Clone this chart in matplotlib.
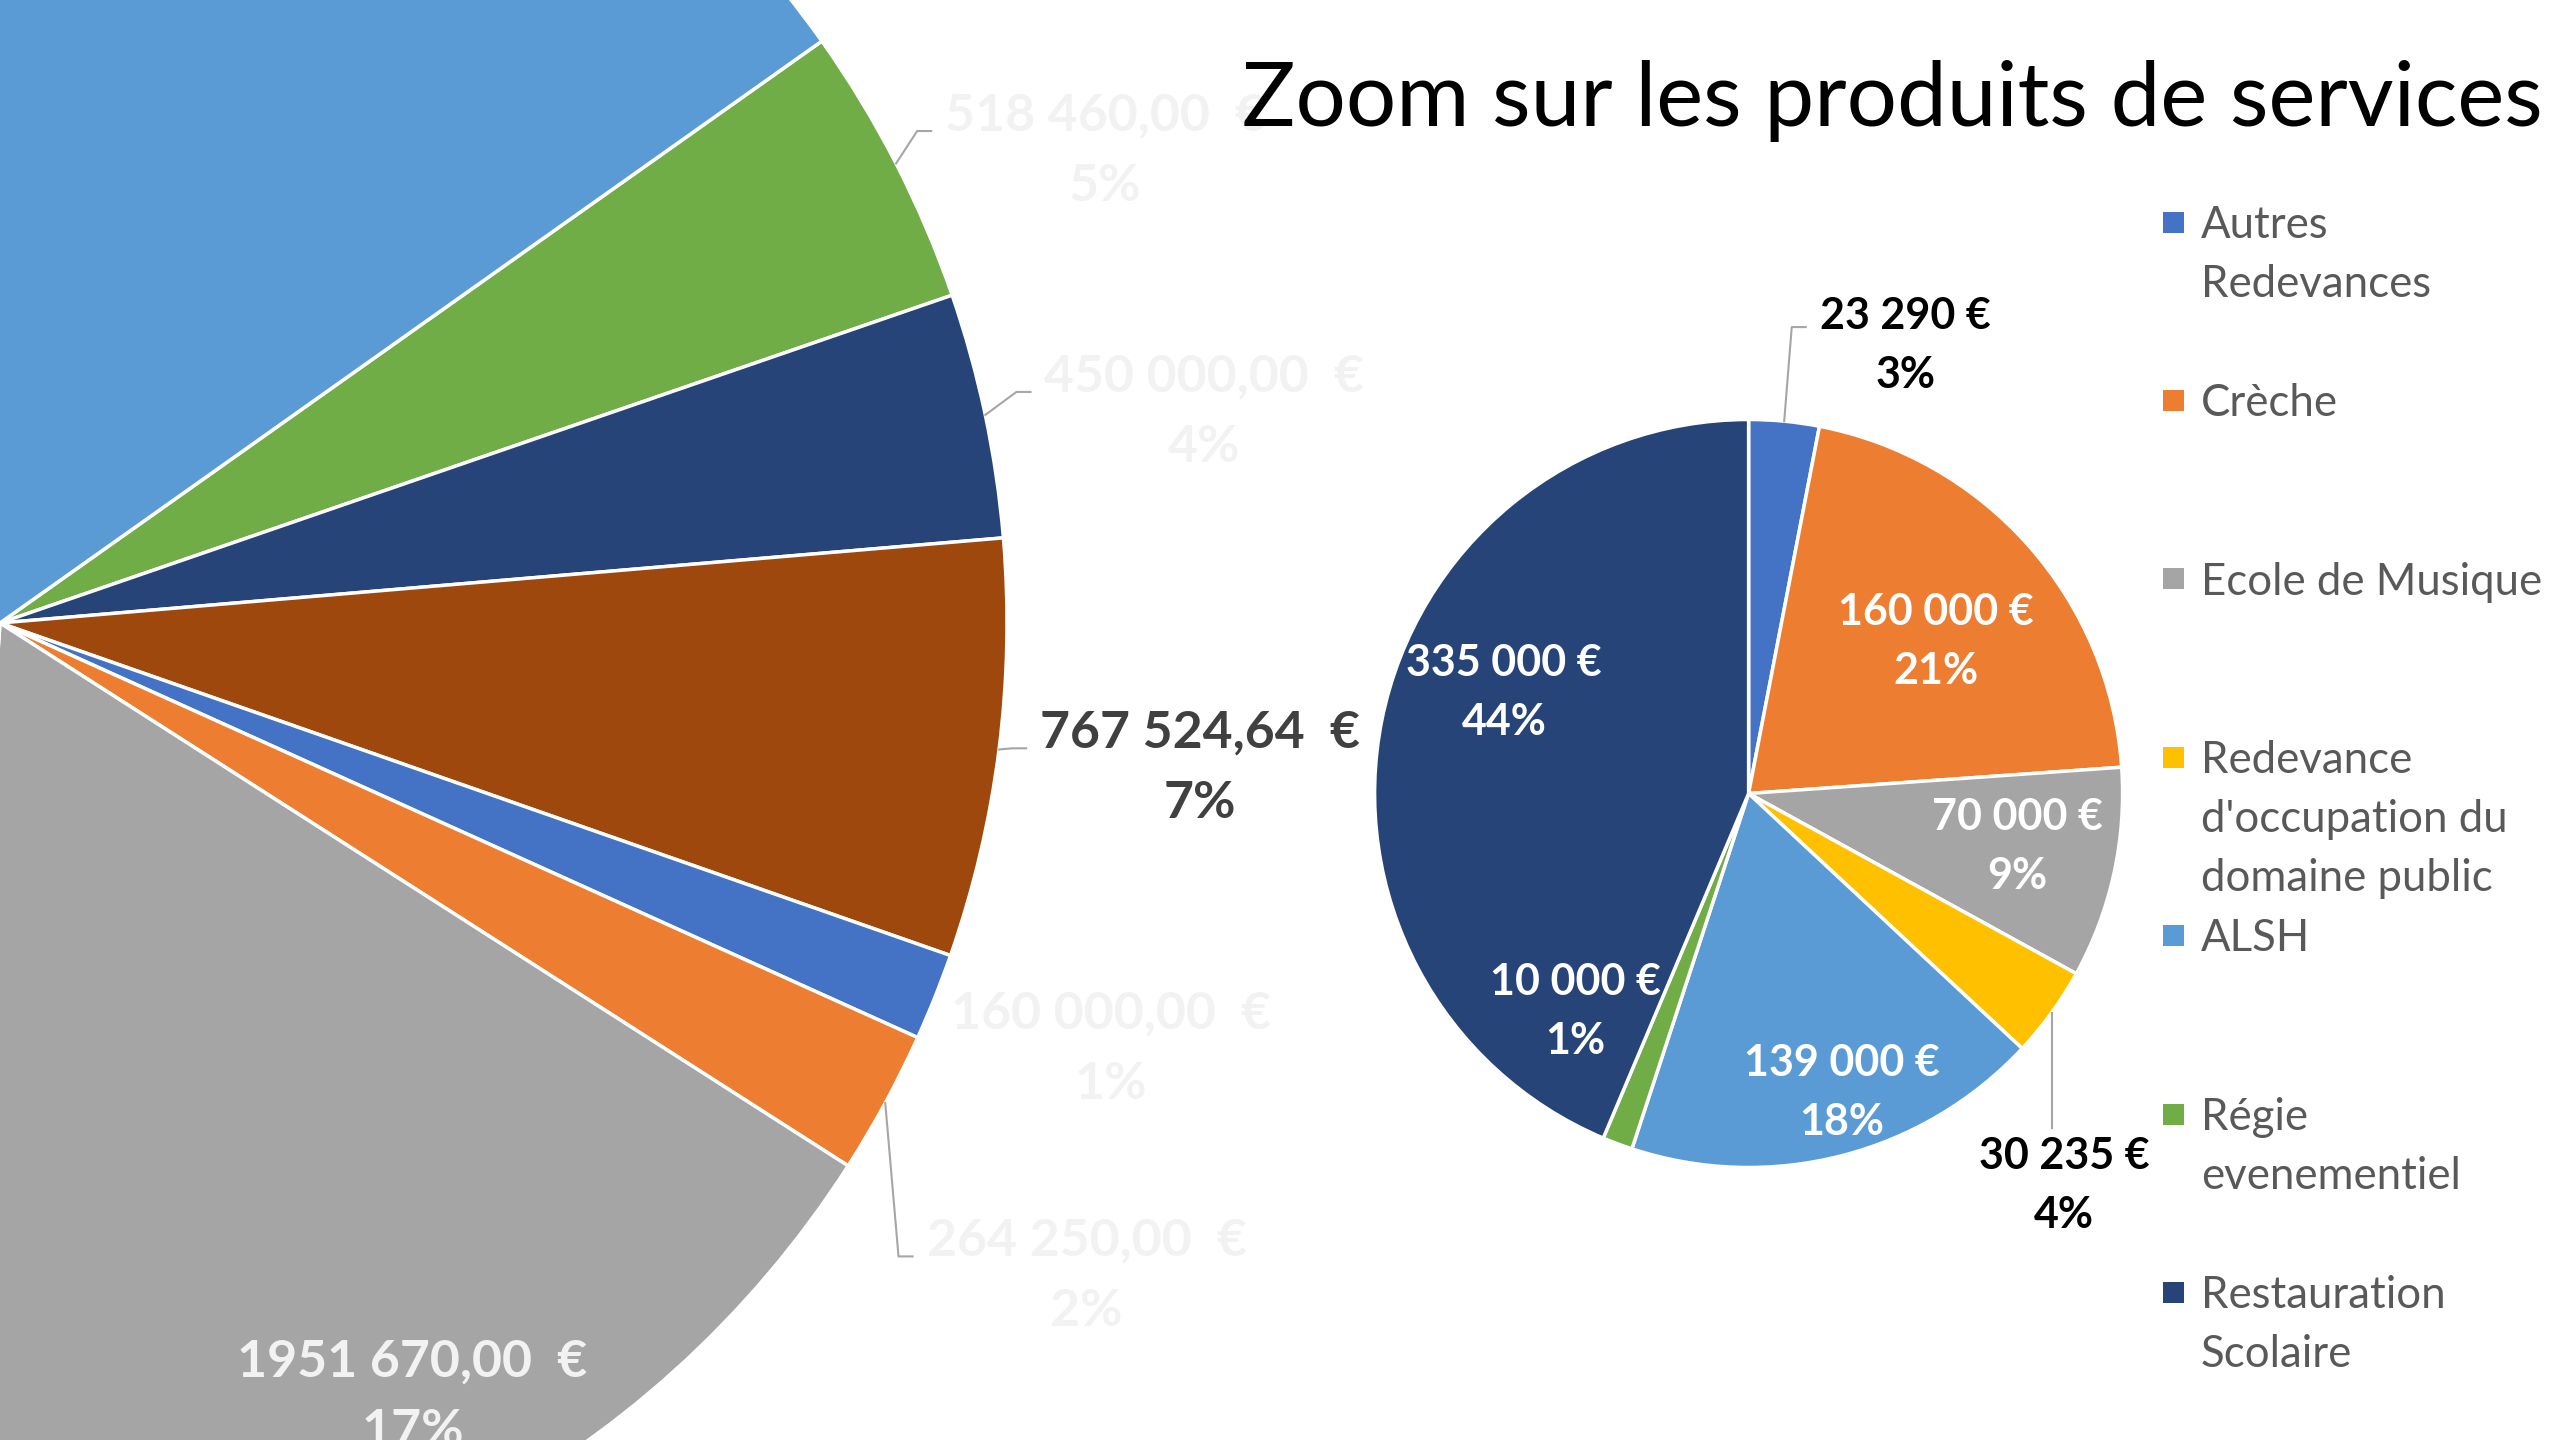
import matplotlib
matplotlib.use("Agg")
import numpy as np
import matplotlib.pyplot as plt
from matplotlib.patches import Rectangle

# grand camembert (gauche), ordre horaire a partir de la tranche verte
grand_valeurs = [518460.00, 450000.00, 767524.64, 160000.00, 264250.00, 1951670.00, 7338000.00]
grand_couleurs = ['#70AD47', '#264478', '#9E480E', '#4472C4', '#ED7D31', '#A5A5A5', '#5B9BD5']

# zoom sur les produits de services (droite)
services = ['Autres\nRedevances', 'Crèche', 'Ecole de Musique',
            "Redevance\nd'occupation du\ndomaine public", 'ALSH',
            'Régie\nevenementiel', 'Restauration\nScolaire']
services_valeurs = [23290, 160000, 70000, 30235, 139000, 10000, 335000]
services_couleurs = ['#4472C4', '#ED7D31', '#A5A5A5', '#FFC000', '#5B9BD5', '#70AD47', '#264478']

titre = 'Zoom sur les produits de services'

# placement des etiquettes : (distance / rayon, decalage angulaire en degres)
grand_pos = [(1.195, -3.85), (1.215, -1.8), (1.2, 0.5), (1.18, 1.0), (1.257, -2.4), (0.867, 1.5), None]
grand_txt_col = ['#F2F2F2', '#F2F2F2', '#404040', '#F2F2F2', '#F2F2F2', '#F2F2F2', None]
grand_leader = ['elbow', 'elbow', 'elbow', None, 'elbow', None, None]

serv_pos = [(1.275, -13.7), (0.65, -2.0), (0.73, 1.8), (1.34, -15.1), (0.83, 3.1), (0.74, -18.3), (0.71, -11.4)]
serv_txt_col = ['black', 'white', 'white', 'black', 'white', 'white', 'white']
serv_leader = ['elbow', None, None, 'down', None, None, None]

W, H = 2560, 1440
FONT = 'Lato'
LEADER_COL = '#A6A6A6'


def fmt_euro(v, decimales):
    s = f"{v:.2f}"
    ent, dec = s.split('.')
    ent = int(ent)
    txt = f"{ent // 1000} {ent % 1000:03d}" if ent >= 1000 else str(ent)
    if decimales:
        return txt + ',' + dec + '  €'
    return txt + ' €'


def draw_lines(ax, cx, cy, lines, size, spacing, color, weight='bold', ha='center'):
    # cap height en px ~ taille en points pour Lato a 100 dpi
    cap = size
    n = len(lines)
    texts = []
    for i, line in enumerate(lines):
        yc = cy + spacing * ((n - 1) / 2 - i)
        t = ax.text(cx, yc - cap / 2, line, ha=ha, va='baseline', fontsize=size,
                    fontweight=weight, color=color, family=FONT, zorder=5)
        texts.append(t)
    return texts


def labels_pie(ax, wedges, values, total, pos, cols, leaders, size, spacing, decimales, center, radius, renderer):
    for w, v, p, c, lead in zip(wedges, values, pos, cols, leaders):
        if p is None:
            continue
        mid = 0.5 * (w.theta1 + w.theta2)
        dist, dang = p
        a = np.deg2rad(mid + dang)
        cx = center[0] + dist * radius * np.cos(a)
        cy = center[1] + dist * radius * np.sin(a)
        lines = [fmt_euro(v, decimales), f"{round(100 * v / total):.0f}%"]
        texts = draw_lines(ax, cx, cy, lines, size, spacing, c)
        if lead is None:
            continue
        width = max(t.get_window_extent(renderer).width for t in texts)
        am = np.deg2rad(mid)
        sx = center[0] + radius * np.cos(am)
        sy = center[1] + radius * np.sin(am)
        if lead == 'elbow':
            left = cx - width / 2
            ax.plot([sx, left - 28, left - 14], [sy, cy + 16, cy + 16],
                    color=LEADER_COL, lw=1.5, zorder=4)
        else:
            top = cy + spacing / 2 + size / 2
            ax.plot([sx, sx], [sy, top + 10], color=LEADER_COL, lw=1.5, zorder=4)


fig = plt.figure(figsize=(25.6, 14.4), dpi=100)
ax = fig.add_axes([0, 0, 1, 1])
renderer = fig.canvas.get_renderer()

g_center, g_radius = (0, H - 623), 1007
s_center, s_radius = (1748.6, H - 793.5), 374

g_wedges, _ = ax.pie(grand_valeurs, colors=grand_couleurs, startangle=35.3, counterclock=False,
                     center=g_center, radius=g_radius, frame=True,
                     wedgeprops=dict(edgecolor='white', linewidth=2.5))
s_wedges, _ = ax.pie(services_valeurs, colors=services_couleurs, startangle=90, counterclock=False,
                     center=s_center, radius=s_radius, frame=True,
                     wedgeprops=dict(edgecolor='white', linewidth=2.5))
ax.set_xlim(0, W)
ax.set_ylim(0, H)
ax.set_axis_off()

labels_pie(ax, g_wedges, grand_valeurs, sum(grand_valeurs), grand_pos, grand_txt_col, grand_leader,
           37.3, 70, True, g_center, g_radius, renderer)
labels_pie(ax, s_wedges, services_valeurs, sum(services_valeurs), serv_pos, serv_txt_col, serv_leader,
           31, 59, False, s_center, s_radius, renderer)

# titre
ax.text(1892, H - 126, titre, ha='center', va='baseline', fontsize=64,
        family=FONT, color='black', zorder=6)

# legende
leg_size = 31.5
leg_y0, leg_step, leg_line = 222, 178.4, 58.8
for k, (nom, col) in enumerate(zip(services, services_couleurs)):
    yc = H - (leg_y0 + k * leg_step)
    ax.add_patch(Rectangle((2173 - 10.5, yc - 10.5), 21, 21, facecolor=col, edgecolor='none', zorder=5))
    lignes = nom.split('\n')
    for i, l in enumerate(lignes):
        ax.text(2201, yc - i * leg_line - leg_size / 2, l, ha='left', va='baseline', fontsize=leg_size,
                color='#595959', family=FONT, zorder=5)

fig.savefig('out.png', dpi=100)
